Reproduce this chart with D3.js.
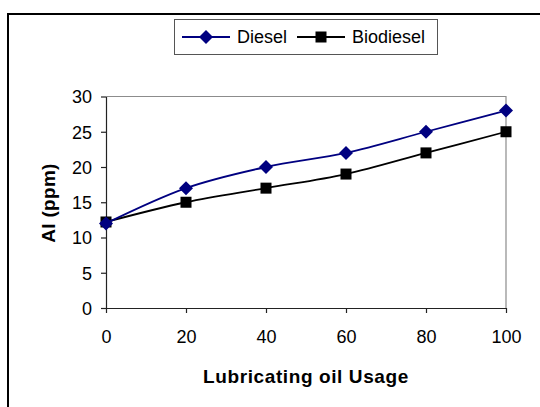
<!DOCTYPE html>
<html>
<head>
<meta charset="utf-8">
<script src="https://cdn.jsdelivr.net/npm/d3@7"></script>
<style>
  body { margin: 0; background: #fff; }
  text { font-family: "Liberation Sans", Arial, sans-serif; fill: #000; }
</style>
</head>
<body>
<svg id="chart" width="540" height="407"></svg>
<script>
// data
const usage = [0, 20, 40, 60, 80, 100];
const diesel = [12, 17, 20, 22, 25, 28];
const biodiesel = [12.2, 15, 17, 19, 22, 25];
const xTicks = [0, 20, 40, 60, 80, 100];
const yTicks = [0, 5, 10, 15, 20, 25, 30];

const svg = d3.select("#chart");

// outer frame (runs off the right and bottom edge)
svg.append("rect")
    .attr("x", 8).attr("y", 14)
    .attr("width", 560).attr("height", 420)
    .attr("fill", "none")
    .attr("stroke", "#000")
    .attr("stroke-width", 2);

const x = d3.scaleLinear().domain([0, 100]).range([106, 506]);
const y = d3.scaleLinear().domain([0, 30]).range([308, 96.5]);

// plot area border, top and right in grey
svg.append("path")
    .attr("d", "M" + x(0) + "," + y(30) + "H" + x(100) + "V" + y(0))
    .attr("fill", "none")
    .attr("stroke", "#8c8c8c")
    .attr("stroke-width", 1.2);

const xAxis = svg.append("g")
    .attr("transform", "translate(0," + y(0) + ")")
    .call(d3.axisBottom(x).tickValues(xTicks).tickSize(5).tickSizeOuter(0).tickPadding(17));
const yAxis = svg.append("g")
    .attr("transform", "translate(" + x(0) + ",0)")
    .call(d3.axisLeft(y).tickValues(yTicks).tickSize(5).tickSizeOuter(0).tickPadding(9));

[xAxis, yAxis].forEach(function(a) {
    a.select(".domain").attr("stroke", "#222").attr("stroke-width", 1.2);
    a.selectAll(".tick line").attr("stroke", "#222").attr("stroke-width", 1.2);
    a.selectAll(".tick text")
        .attr("font-family", "Liberation Sans, Arial, sans-serif")
        .attr("font-size", 18)
        .attr("fill", "#000");
});
yAxis.selectAll(".tick text").attr("dy", "0.36em");

// axis titles
svg.append("text")
    .attr("x", 306).attr("y", 383)
    .attr("text-anchor", "middle")
    .attr("font-size", 19)
    .attr("font-weight", "bold")
    .attr("letter-spacing", 0.6)
    .text("Lubricating oil Usage");

svg.append("text")
    .attr("transform", "translate(55,203) rotate(-90)")
    .attr("text-anchor", "middle")
    .attr("font-size", 19)
    .attr("font-weight", "bold")
    .attr("letter-spacing", 0.3)
    .text("Al (ppm)");

const line = d3.line()
    .x(function(d) { return x(d[0]); })
    .y(function(d) { return y(d[1]); })
    .curve(d3.curveCatmullRom.alpha(0));

const series = [
    {name: "Diesel", values: diesel, color: "#000080", marker: "diamond"},
    {name: "Biodiesel", values: biodiesel, color: "#000000", marker: "square"}
];

function drawMarker(g, kind, color, cx, cy) {
    if (kind == "diamond") {
        g.append("path")
            .attr("d", "M" + cx + "," + (cy - 7) + "L" + (cx + 7) + "," + cy +
                "L" + cx + "," + (cy + 7) + "L" + (cx - 7) + "," + cy + "Z")
            .attr("fill", color);
    } else {
        g.append("rect")
            .attr("x", cx - 5.5).attr("y", cy - 5.5)
            .attr("width", 11).attr("height", 11)
            .attr("fill", color);
    }
}

// draw biodiesel first so diesel sits on top where they meet
series.slice().reverse().forEach(function(s) {
    const pts = usage.map(function(u, i) { return [u, s.values[i]]; });
    const g = svg.append("g");
    g.append("path")
        .attr("d", line(pts))
        .attr("fill", "none")
        .attr("stroke", s.color)
        .attr("stroke-width", 1.8);
    pts.forEach(function(p) {
        drawMarker(g, s.marker, s.color, x(p[0]), y(p[1]));
    });
});

// legend
const legend = svg.append("g");
legend.append("rect")
    .attr("x", 174.5).attr("y", 19.5)
    .attr("width", 263).attr("height", 35)
    .attr("fill", "#fff")
    .attr("stroke", "#555")
    .attr("stroke-width", 1);

const legendPos = [{x1: 182, x2: 230, tx: 237}, {x1: 297, x2: 345, tx: 352}];
series.forEach(function(s, i) {
    const p = legendPos[i];
    legend.append("line")
        .attr("x1", p.x1).attr("x2", p.x2)
        .attr("y1", 37).attr("y2", 37)
        .attr("stroke", s.color)
        .attr("stroke-width", 1.8);
    drawMarker(legend, s.marker, s.color, (p.x1 + p.x2) / 2, 37);
    legend.append("text")
        .attr("x", p.tx).attr("y", 43)
        .attr("font-size", 18)
        .text(s.name);
});
</script>
</body>
</html>
